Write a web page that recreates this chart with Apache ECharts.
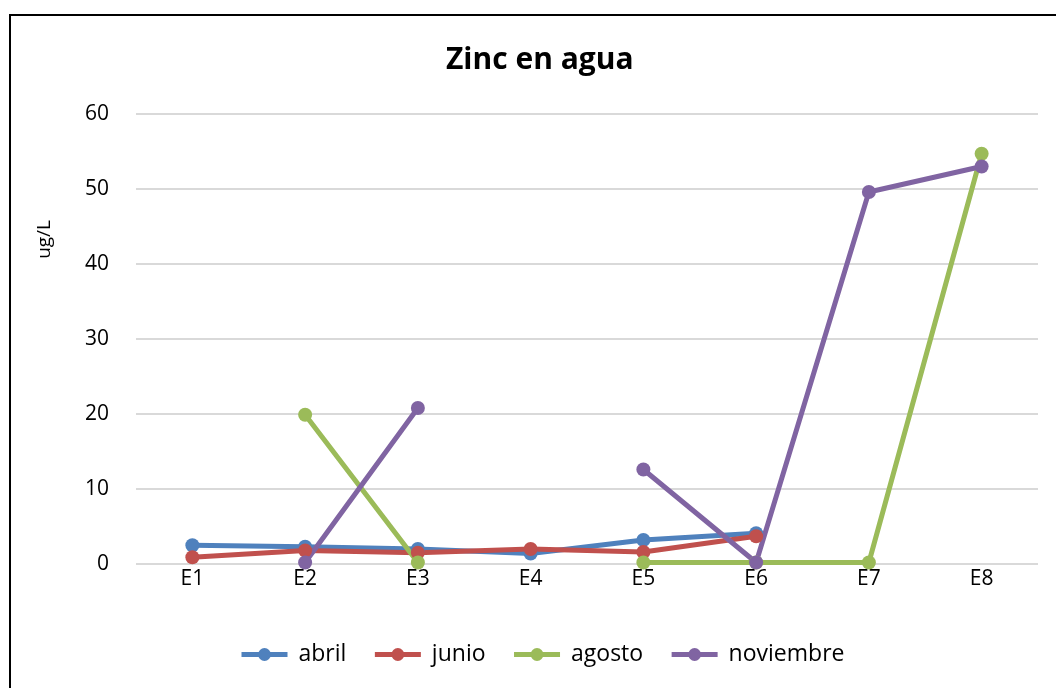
<!DOCTYPE html>
<html>
<head>
<meta charset="utf-8">
<script src="https://cdn.jsdelivr.net/npm/echarts@6/dist/echarts.min.js"></script>
<style>
    html, body {margin: 0; padding: 0; background: #fff;}
    #frame {position: absolute; left: 9px; top: 14px; width: 1100px; height: 700px;
        border-left: 2px solid #000; border-top: 2px solid #000;}
    #chart {position: absolute; left: 0; top: 0; width: 1056px; height: 688px;}
</style>
</head>
<body>
<div id="frame"></div>
<div id="chart"></div>
<script>
    // datos
    const categories = ['E1', 'E2', 'E3', 'E4', 'E5', 'E6', 'E7', 'E8'];
    const abril = [2.5, 2.3, 2.0, 1.4, 3.2, 4.1, null, null];
    const junio = [0.9, 1.8, 1.5, 2.0, 1.6, 3.7, null, null];
    const agosto = [null, 19.9, 0.2, null, 0.2, 0.2, 0.2, 54.7];
    const noviembre = [null, 0.2, 20.8, null, 12.6, 0.2, 49.6, 53.0];
    const yTicks = [0, 10, 20, 30, 40, 50, 60];

    const font = '"Open Sans", "Liberation Sans", sans-serif';
    const echartsApp = echarts.init(document.getElementById('chart'));

    const makeSeries = function (name, data, color) {
        return {
            name: name,
            type: 'line',
            data: data,
            connectNulls: false,
            symbol: 'circle',
            symbolSize: 14,
            itemStyle: {color: color},
            lineStyle: {width: 5, color: color},
            z: 3
        };
    };

    const option = {
        animation: false,
        backgroundColor: 'transparent',
        title: {
            text: 'Zinc en agua',
            left: 441,
            top: 40,
            textStyle: {fontFamily: font, fontSize: 30, fontWeight: 'bold', color: '#000'}
        },
        legend: {
            bottom: 17,
            left: 234,
            itemWidth: 46,
            itemHeight: 16,
            itemGap: 26,
            lineStyle: {width: 5},
            textStyle: {fontFamily: font, fontSize: 23, color: '#000', padding: [0, 0, 0, 6]},
            data: ['abril', 'junio', 'agosto', 'noviembre']
        },
        graphic: [{
            type: 'text',
            left: 35,
            top: 220,
            rotation: Math.PI / 2,
            style: {text: 'ug/L', font: '19px ' + font, fill: '#000'}
        }],
        grid: {left: 136, right: 18, top: 114, bottom: 124},
        xAxis: {
            type: 'category',
            data: categories,
            boundaryGap: true,
            axisLine: {show: false},
            axisTick: {show: false},
            axisLabel: {fontFamily: font, fontSize: 21, color: '#000', margin: 5}
        },
        yAxis: {
            type: 'value',
            min: yTicks[0],
            max: yTicks[yTicks.length - 1],
            interval: 10,
            axisLine: {show: false},
            axisTick: {show: false},
            axisLabel: {fontFamily: font, fontSize: 21, color: '#000', margin: 27},
            splitLine: {lineStyle: {color: '#d9d9d9', width: 2}}
        },
        series: [
            makeSeries('abril', abril, '#4F81BD'),
            makeSeries('junio', junio, '#C0504D'),
            makeSeries('agosto', agosto, '#9BBB59'),
            makeSeries('noviembre', noviembre, '#8064A2')
        ]
    };
    echartsApp.setOption(option);
</script>
</body>
</html>
